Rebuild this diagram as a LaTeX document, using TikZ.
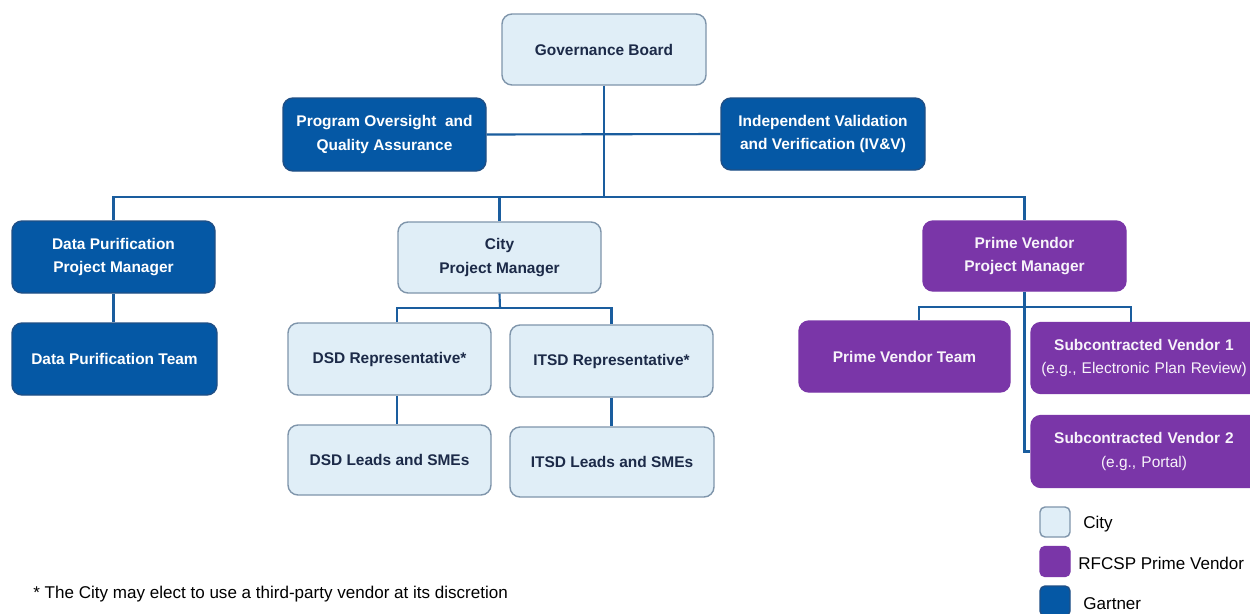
\documentclass[tikz,border=0pt]{standalone}
\usepackage{fontspec}
\setmainfont{Liberation Sans}
\definecolor{cityfill}{HTML}{E0EEF7}
\definecolor{cityline}{HTML}{7F95AB}
\definecolor{citytext}{HTML}{1C2A48}
\definecolor{gblue}{HTML}{0558A5}
\definecolor{gbluedark}{HTML}{1F4F86}
\definecolor{purp}{HTML}{7A36A8}
\definecolor{conn}{HTML}{1A5D9E}
\tikzset{
  box/.style={rounded corners=0.2cm, align=center, inner sep=2pt,
    font=\fontsize{8.8}{13.6}\selectfont\bfseries, line width=0.8pt},
  citybox/.style={box, fill=cityfill, draw=cityline, text=citytext},
  gartbox/.style={box, fill=gblue, draw=gbluedark, text=white},
  vendbox/.style={box, fill=purp, draw=purp, text=white!94!purp},
  sz/.style 2 args={minimum width=#1*0.02cm, minimum height=#2*0.02cm},
  conline/.style={draw=conn, line width=1.2pt},
  legbox/.style={rounded corners=0.1cm, minimum width=0.6cm, minimum height=0.6cm, line width=0.8pt},
  legtext/.style={anchor=west, font=\fontsize{9.7}{11}\selectfont, text=black, inner sep=0pt}
}
\begin{document}
\begin{tikzpicture}[x=0.02cm, y=-0.02cm]
\useasboundingbox[fill=white] (0,0) rectangle (1250,613);
% nodes
\node[citybox, sz={204}{71}] (gov) at (604,49.5) {Governance Board};
\node[gartbox, sz={203}{73}] (poqa) at (384.5,134.5) {Program Oversight\ \ and\\Quality Assurance};
\node[gartbox, sz={204}{72}] (ivv) at (823,134) {Independent Validation\\and Verification (IV\&V)};
\node[gartbox, sz={203}{72}] (dppm) at (113.5,257) {Data Purification\\Project Manager};
\node[gartbox, sz={205}{72}] (dpt) at (114.5,359) {Data Purification Team};
\node[citybox, sz={203}{71}] (citypm) at (499.5,257.5) {City\\Project Manager};
\node[citybox, sz={203}{72}] (dsd) at (389.5,359) {DSD Representative*};
\node[citybox, sz={203}{72}] (itsd) at (611.5,361) {ITSD Representative*};
\node[citybox, sz={203}{70}] (dsdl) at (389.5,460) {DSD Leads and SMEs};
\node[citybox, sz={204}{70}] (itsdl) at (612,462) {ITSD Leads and SMEs};
\node[vendbox, sz={203}{70}] (pvpm) at (1024.5,256) {Prime Vendor\\Project Manager};
\node[vendbox, sz={211}{71}] (pvt) at (904.5,356.5) {Prime Vendor Team};
\node[vendbox, sz={231}{71}, text width=4.4cm] (sv1) at (1146.5,358) {\hspace*{-0.1cm}Subcontracted\ Vendor 1\\\hspace*{-0.1cm}\mdseries(e.g., Electronic Plan Review)};
\node[vendbox, sz={231}{72}, text width=4.4cm] (sv2) at (1146.5,451.5) {\hspace*{-0.1cm}Subcontracted\ Vendor 2\\\hspace*{-0.1cm}\mdseries(e.g., Portal)};
% coordinates
\coordinate (bus) at (603,197);
\coordinate (cb) at (500,308);
\coordinate (pl) at (919,307);
\coordinate (pr) at (1131,307);
% connectors
\path[conline] (gov.south) -- (gov.south |- bus);
\path[conline] (poqa.east) -- (ivv.west);
\path[conline] (dppm.north) |- (bus) -| (pvpm.north);
\path[conline] (citypm.north) -- (citypm.north |- bus);
\path[conline] (dppm.south) -- (dppm.south |- dpt.north);
\path[conline] (citypm.south) -- (cb);
\path[conline] (citypm.west |- dsd.north) |- (cb) -| (itsd.north);
\path[conline] (citypm.west |- dsd.south) -- (citypm.west |- dsdl.north);
\path[conline] (itsd.south) -- (itsd.south |- itsdl.north);
\path[conline] (pl |- pvt.north) |- (pr) -- (pr |- sv1.north);
\path[conline] (pvpm.south) |- (sv2.west);
% footnote
\node[legtext] (fn) at (33,594) {* The City may elect to use a third-party vendor at its discretion};
% legend
\node[legbox, fill=cityfill, draw=cityline] (lc) at (1055,522) {};
\node[legbox, fill=purp, draw=purp] (lp) at (1055,561.5) {};
\node[legbox, fill=gblue, draw=gbluedark] (lg) at (1055,601) {};
\node[legtext] (lct) at (1083,524) {City};
\node[legtext] (lpt) at (1078,563) {RFCSP Prime Vendor};
\node[legtext] (lgt) at (1083,604) {Gartner};
\end{tikzpicture}
\end{document}
